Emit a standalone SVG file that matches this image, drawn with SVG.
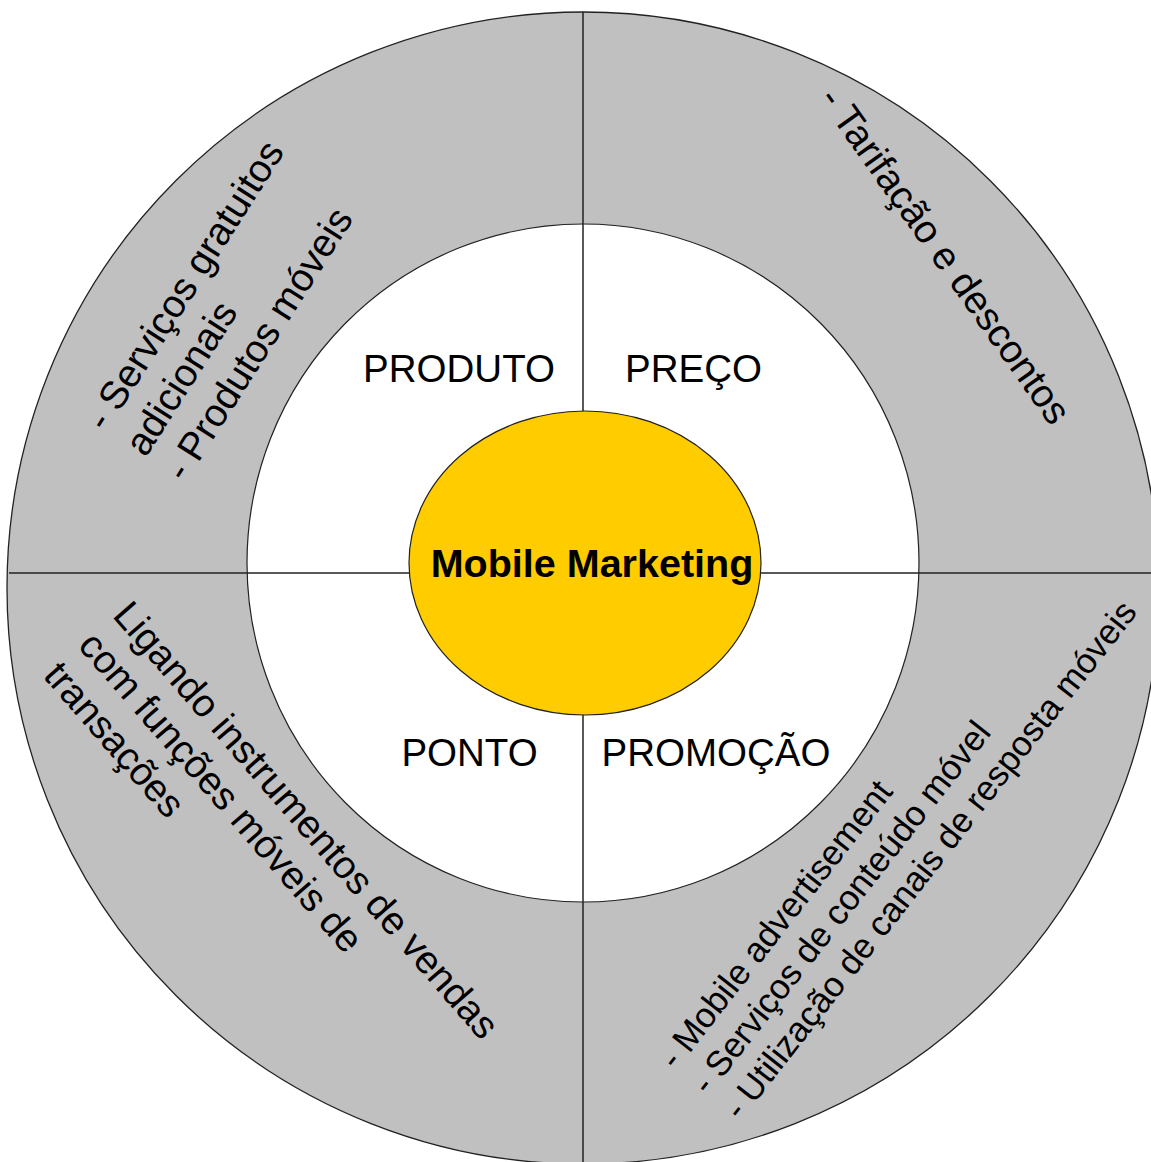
<svg xmlns="http://www.w3.org/2000/svg" width="1151" height="1162" viewBox="0 0 1151 1162">
<style>
.txt{font-family:"Liberation Sans",Arial,sans-serif;fill:#000;}
.lbl{font-size:38.5px;text-anchor:middle;}
.side{font-size:39px;}
.side2{font-size:35px;}
.div{stroke:#222;stroke-width:1.5;fill:none;}
</style>
<rect width="1151" height="1162" fill="#fff"/>
<g id="outer-ring">
<circle cx="583" cy="588" r="576" fill="#c0c0c0" stroke="#222" stroke-width="1.3"/>
</g>
<g id="inner-ring">
<ellipse cx="583" cy="563" rx="336" ry="339" fill="#fff" stroke="#222" stroke-width="1.2"/>
</g>
<g id="connectors">
<line class="div" x1="583" y1="12" x2="583" y2="1162"/>
<line class="div" x1="9" y1="573" x2="1151" y2="573"/>
</g>
<g id="center">
<ellipse cx="585" cy="563" rx="176" ry="152" fill="#ffcc00" stroke="#222" stroke-width="1.2"/>
<text class="txt" x="592" y="577" font-size="39.5" font-weight="bold" text-anchor="middle">Mobile Marketing</text>
</g>
<g id="produto"><text class="txt lbl" x="459" y="382">PRODUTO</text></g>
<g id="preco"><text class="txt lbl" x="693.5" y="382">PREÇO</text></g>
<g id="ponto"><text class="txt lbl" x="469.5" y="766">PONTO</text></g>
<g id="promocao"><text class="txt lbl" x="716" y="766">PROMOÇÃO</text></g>
<g id="produto-detail">
<text class="txt side" transform="translate(106,433) rotate(-57.5)"><tspan x="0" dy="0">- Serviços gratuitos</tspan><tspan x="0" dy="47">adicionais</tspan><tspan x="0" dy="47">- Produtos móveis</tspan></text>
</g>
<g id="preco-detail">
<text class="txt side" transform="translate(818,99) rotate(54.6)" font-size="40.5">- Tarifação e descontos</text>
</g>
<g id="ponto-detail">
<text class="txt side" transform="translate(111.5,616) rotate(49)"><tspan x="0" dy="0">Ligando instrumentos de vendas</tspan><tspan x="0" dy="46">com funções móveis de</tspan><tspan x="0" dy="46">transações</tspan></text>
</g>
<g id="promocao-detail">
<text class="txt side2" transform="translate(676,1071) rotate(-52)"><tspan x="0" dy="0">- Mobile advertisement</tspan><tspan x="0" dy="41">- Serviços de conteúdo móvel</tspan><tspan x="0" dy="41">- Utilização de canais de resposta móveis</tspan></text>
</g>
</svg>
